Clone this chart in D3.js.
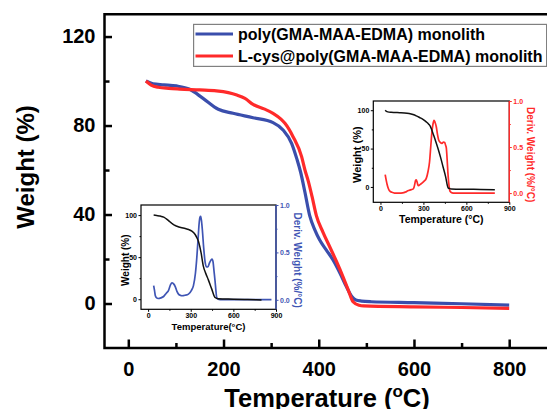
<!DOCTYPE html>
<html>
<head>
<meta charset="utf-8">
<script src="https://cdn.jsdelivr.net/npm/d3@7"></script>
<style>
body { margin: 0; background: #fff; }
svg { display: block; font-family: "Liberation Sans", Arial, sans-serif; font-weight: bold; }
</style>
</head>
<body>
<div id="chart"></div>
<script>
// ---- data ----
const seriesNames = ['poly(GMA-MAA-EDMA) monolith', 'L-cys@poly(GMA-MAA-EDMA) monolith'];
const seriesColors = ['#3a4eac', '#ff2a2a'];

// main TGA curves: [temperature (C), weight (%)]
const polyTga = [[37,100],[52,98.7],[75,98.3],[101,97.8],[129,96.3],[157,92.2],[189,87.3],[220,85.5],
  [262,83.5],[304,81.3],[325,78],[343,72],[354,65],[362,59],[371,50],[381,39.5],[392,33],[402,28.5],
  [416,24],[430,19.6],[445,13.5],[458,7.6],[470,3],[478,1.6],[490,1.1],[510,0.8],[600,0.4],[700,-0.1],[800,-0.7]];
const cysTga = [[37,100],[48,98.2],[63,97.2],[85,96.7],[108,96.4],[150,96],[185,95.6],[210,94.8],
  [228,93.7],[245,92.2],[262,89.5],[285,87.5],[304,85.5],[320,83],[329,81],[346,75],[364,66],[371,60],
  [378,55],[386,48],[395,39.5],[409,32],[423,25.5],[437,19],[451,12],[462,6],[472,0.8],[485,-0.8],
  [494,-1.1],[600,-1.5],[700,-1.8],[800,-2.2]];

// inset (lower left): poly monolith weight and derivative
const polyInsetWeight = [[39,100],[60,99.5],[86,98.8],[110,97.5],[133,94.9],[150,92.5],[168,90],[185,88],
  [203,86.8],[230,85.3],[261,84],[285,82.8],[308,80.9],[331,76.9],[345,72.5],[354,68.9],[373,55],[389,39],
  [405,31],[424,23],[448,12],[471,2],[494,0.4],[600,0],[700,-0.4],[798,-0.8]];
const polyInsetDeriv = [[39,0.149],[45,0.10],[51,0.043],[60,0.02],[70,0.014],[90,0.02],[109,0.035],[128,0.07],
  [144,0.10],[158,0.16],[168,0.18],[178,0.17],[191,0.14],[203,0.09],[214,0.06],[226,0.048],[238,0.043],
  [260,0.048],[284,0.06],[305,0.10],[319,0.15],[333,0.28],[343,0.45],[352,0.65],[359,0.805],[365,0.87],
  [370,0.88],[376,0.83],[382,0.734],[391,0.55],[401,0.40],[410,0.35],[420,0.346],[432,0.39],[443,0.42],
  [450,0.43],[457,0.40],[464,0.30],[471,0.20],[477,0.10],[483,0.024],[493,0.006],[506,0.003],[700,0.003],[868,0.003]];

// inset (upper right): L-cys monolith weight and derivative
const cysInsetWeight = [[33,100],[42,98.5],[51,97.8],[75,97.2],[98,97],[135,96.8],[168,96.5],[200,95.7],
  [227,94.4],[250,92.7],[273,90.5],[297,88],[320,84.8],[337,81.8],[350,78.3],[358,74.5],[367,69.7],[385,60],
  [402,50.2],[420,38.5],[437,26.4],[455,13.5],[472,-0.9],[484,-2.2],[495,-2.6],[600,-3],[700,-3.2],[799,-3.5]];
const cysInsetDeriv = [[33,0.20],[40,0.14],[47,0.09],[55,0.05],[63,0.025],[80,0.008],[98,0],[130,0],
  [156,0.002],[175,0.012],[191,0.025],[210,0.035],[227,0.043],[234,0.06],[240,0.10],[245,0.135],[250,0.144],
  [256,0.12],[261,0.09],[266,0.082],[278,0.095],[290,0.108],[305,0.13],[320,0.16],[333,0.24],[343,0.34],
  [352,0.52],[360,0.67],[367,0.75],[374,0.79],[381,0.77],[390,0.72],[398,0.64],[406,0.58],[418,0.55],
  [430,0.54],[440,0.555],[448,0.55],[455,0.52],[460,0.49],[466,0.36],[472,0.2],[479,0.08],[486,0.02],
  [500,0.003],[519,0],[799,0]];

const tempTicks = [0, 200, 400, 600, 800];
const tempMinor = [100, 300, 500, 700];
const weightTicks = [0, 40, 80, 120];
const weightMinor = [20, 60, 100];
const insetTempTicks = [0, 300, 600, 900];
const insetTempMinor = [150, 450, 750];
const insetWeightTicks = [0, 50, 100];
const insetWeightMinor = [25, 75];
const insetDerivTicks = [0, 0.5, 1.0];
const insetDerivMinor = [0.25, 0.75];

// ---- layout ----
const width = 547; const height = 409;
const frame = {left: 104.5, top: 14.3, bottom: 348};

const svg = d3.select('#chart')
    .append('svg')
        .attr('width', width)
        .attr('height', height);

const x = d3.scaleLinear().domain([-50, 900]).range([frame.left, 556.8]);
const y = d3.scaleLinear().domain([-20, 130]).range([frame.bottom, frame.top]);

function styleAxis(g, sw) {
    g.select('.domain').remove();
    g.selectAll('.tick line').attr('stroke', '#000').attr('stroke-width', sw);
    g.selectAll('.tick text').attr('fill', '#000');
}

// main axes
const xAxisG = svg.append('g')
    .attr('transform', `translate(0, ${frame.bottom})`)
    .call(d3.axisBottom(x).tickValues(tempTicks).tickSize(-8.5).tickPadding(14))
    .attr('font-size', 20).attr('font-family', null);
styleAxis(xAxisG, 2.5);
const xMinorG = svg.append('g')
    .attr('transform', `translate(0, ${frame.bottom})`)
    .call(d3.axisBottom(x).tickValues(tempMinor).tickSize(-5).tickFormat(''));
styleAxis(xMinorG, 2.5);

const yAxisG = svg.append('g')
    .attr('transform', `translate(${frame.left}, 0)`)
    .call(d3.axisLeft(y).tickValues(weightTicks).tickSize(-7.5).tickPadding(9))
    .attr('font-size', 20).attr('font-family', null);
styleAxis(yAxisG, 2.5);
const yMinorG = svg.append('g')
    .attr('transform', `translate(${frame.left}, 0)`)
    .call(d3.axisLeft(y).tickValues(weightMinor).tickSize(-5).tickFormat(''));
styleAxis(yMinorG, 2.5);

// frame lines
const frameG = svg.append('g').attr('stroke', '#000').attr('stroke-width', 2.5).attr('fill', 'none');
frameG.append('path').attr('d', `M${width},${frame.top}H${frame.left}V${frame.bottom}H${width}`);

// axis titles
svg.append('text')
    .attr('x', 327).attr('y', 407)
    .attr('text-anchor', 'middle')
    .attr('font-size', 25.5)
    .call(t => {
        t.append('tspan').text('Temperature (');
        t.append('tspan').attr('font-size', 17).attr('dy', -10).text('o');
        t.append('tspan').attr('dy', 10).text('C)');
    });
svg.append('text')
    .attr('transform', 'translate(34, 167) rotate(-90)')
    .attr('text-anchor', 'middle')
    .attr('font-size', 24)
    .text('Weight (%)');

// main curves
const line = d3.line()
    .x(d => x(d[0]))
    .y(d => y(d[1]))
    .curve(d3.curveMonotoneX);
[polyTga, cysTga].forEach((data, i) => {
    svg.append('path')
        .datum(data)
        .attr('fill', 'none')
        .attr('stroke', seriesColors[i])
        .attr('stroke-width', 3.2)
        .attr('stroke-linejoin', 'round')
        .attr('d', line);
});

// legend
const legend = svg.append('g');
legend.append('rect')
    .attr('x', 193.6).attr('y', 24.4)
    .attr('width', 353).attr('height', 42)
    .attr('fill', '#fff').attr('stroke', '#808080').attr('stroke-width', 1.2);
seriesNames.forEach((name, i) => {
    const ly = 34 + i * 22;
    legend.append('line')
        .attr('x1', 195.5).attr('x2', 233)
        .attr('y1', ly).attr('y2', ly)
        .attr('stroke', seriesColors[i]).attr('stroke-width', 3);
    legend.append('text')
        .attr('x', 238).attr('y', ly + 6)
        .attr('font-size', 16)
        .text(name);
});

// ---- insets ----
function drawInset(opt) {
    const ix = d3.scaleLinear().domain([-50, 900]).range([opt.x0, opt.x1]);
    const iyW = d3.scaleLinear().domain(opt.wDomain).range([opt.y1, opt.y0]);
    const iyD = d3.scaleLinear().domain([-0.1, 1.0]).range([opt.y1, opt.y0]);
    const g = svg.append('g');

    g.append('rect')
        .attr('x', opt.x0).attr('y', opt.y0)
        .attr('width', opt.x1 - opt.x0).attr('height', opt.y1 - opt.y0)
        .attr('fill', '#fff').attr('stroke', '#000').attr('stroke-width', 1.2);

    const bx = g.append('g').attr('transform', `translate(0, ${opt.y1})`)
        .call(d3.axisBottom(ix).tickValues(insetTempTicks).tickSize(2.5).tickPadding(1.5))
        .attr('font-size', 7).attr('font-family', null);
    styleAxis(bx, 1);
    styleAxis(g.append('g').attr('transform', `translate(0, ${opt.y1})`)
        .call(d3.axisBottom(ix).tickValues(insetTempMinor).tickSize(1.5).tickFormat('')), 1);

    const ly = g.append('g').attr('transform', `translate(${opt.x0}, 0)`)
        .call(d3.axisLeft(iyW).tickValues(insetWeightTicks).tickSize(2.5).tickPadding(1.5))
        .attr('font-size', 7).attr('font-family', null);
    styleAxis(ly, 1);
    styleAxis(g.append('g').attr('transform', `translate(${opt.x0}, 0)`)
        .call(d3.axisLeft(iyW).tickValues(insetWeightMinor).tickSize(1.5).tickFormat('')), 1);

    const ry = g.append('g').attr('transform', `translate(${opt.x1}, 0)`)
        .call(d3.axisRight(iyD).tickValues(insetDerivTicks).tickSize(2.5).tickPadding(1.5).tickFormat(d3.format('.1f')))
        .attr('font-size', 7).attr('font-family', null);
    ry.select('.domain').remove();
    ry.selectAll('.tick line').attr('stroke', opt.color).attr('stroke-width', 1);
    ry.selectAll('.tick text').attr('fill', opt.color);
    const rm = g.append('g').attr('transform', `translate(${opt.x1}, 0)`)
        .call(d3.axisRight(iyD).tickValues(insetDerivMinor).tickSize(1.5).tickFormat(''));
    rm.select('.domain').remove();
    rm.selectAll('.tick line').attr('stroke', opt.color);
    g.append('line')
        .attr('x1', opt.x1).attr('x2', opt.x1)
        .attr('y1', opt.y0).attr('y2', opt.y1)
        .attr('stroke', opt.color).attr('stroke-width', 1.4);

    g.append('path')
        .datum(opt.deriv)
        .attr('fill', 'none').attr('stroke', opt.color).attr('stroke-width', 1.7)
        .attr('d', d3.line().x(d => ix(d[0])).y(d => iyD(d[1])).curve(d3.curveMonotoneX));
    g.append('path')
        .datum(opt.weight)
        .attr('fill', 'none').attr('stroke', '#111').attr('stroke-width', 1.5)
        .attr('d', d3.line().x(d => ix(d[0])).y(d => iyW(d[1])).curve(d3.curveMonotoneX));

    g.append('text')
        .attr('x', (opt.x0 + opt.x1) / 2).attr('y', opt.y1 + 21)
        .attr('text-anchor', 'middle').attr('font-size', opt.xSize)
        .text(opt.xLabel);
    g.append('text')
        .attr('transform', `translate(${opt.x0 - 12}, ${(opt.y0 + opt.y1) / 2 + 3}) rotate(-90)`)
        .attr('text-anchor', 'middle').attr('font-size', opt.ySize)
        .text('Weight (%)');
    g.append('text')
        .attr('transform', `translate(${opt.x1 + 18}, ${(opt.y0 + opt.y1) / 2 + 3}) rotate(90)`)
        .attr('text-anchor', 'middle').attr('font-size', opt.rSize)
        .attr('fill', opt.color)
        .text('Deriv. Weight (%/°C)');
}

drawInset({
    x0: 373.3, x1: 509.3, y0: 101, y1: 202.3,
    wDomain: [-20, 112],
    weight: cysInsetWeight, deriv: cysInsetDeriv,
    color: '#ff2a2a', xLabel: 'Temperature (°C)',
    xSize: 10.5, ySize: 11, rSize: 10
});
drawInset({
    x0: 141, x1: 276, y0: 205, y1: 309.3,
    wDomain: [-12, 112],
    weight: polyInsetWeight, deriv: polyInsetDeriv,
    color: '#3f55b4', xLabel: 'Temperature(°C)',
    xSize: 9.5, ySize: 10, rSize: 10
});
</script>
</body>
</html>
